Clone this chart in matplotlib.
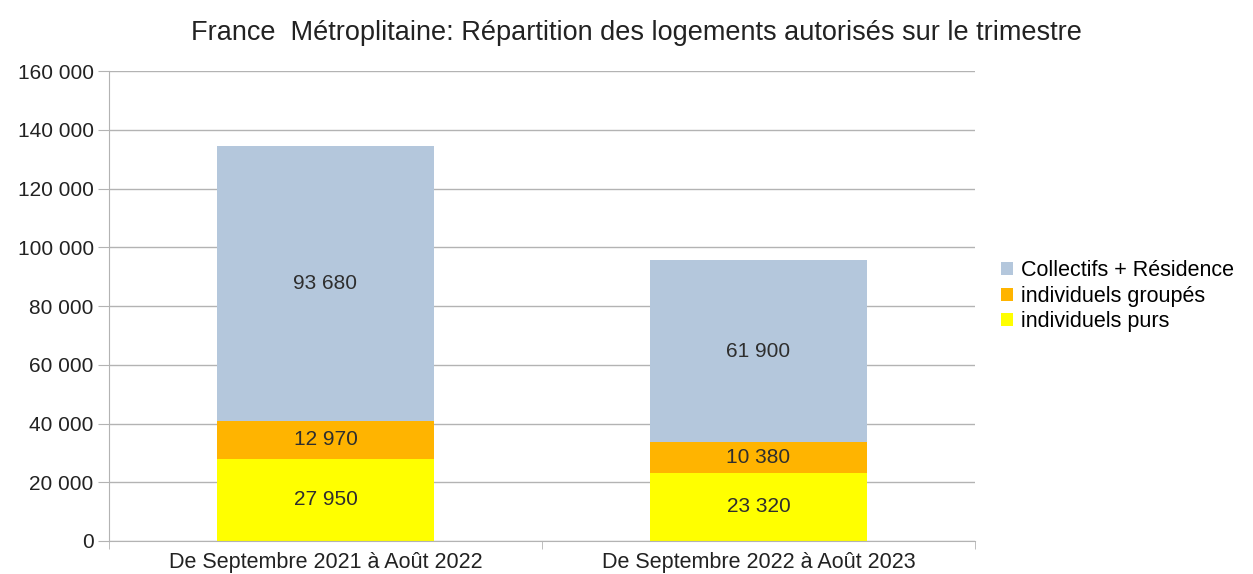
import matplotlib.pyplot as plt
import numpy as np

plt.rcParams["font.family"] = ["Liberation Sans", "DejaVu Sans"]

periods = ["De Septembre 2021 à Août 2022", "De Septembre 2022 à Août 2023"]
individuels_purs = [27950, 23320]
individuels_groupes = [12970, 10380]
collectifs = [93680, 61900]

series = [
    ("individuels purs", individuels_purs, "#ffff00"),
    ("individuels groupés", individuels_groupes, "#ffb400"),
    ("Collectifs + Résidence", collectifs, "#b4c7dc"),
]


def fmt(v):
    return f"{v:,.0f}".replace(",", " ")


fig = plt.figure(figsize=(12.53, 5.74), dpi=100)
ax = fig.add_axes([0.087, 0.0575, 0.691, 0.8185])

x = np.arange(len(periods))
bottom = np.zeros(len(periods))
handles = []
for label, vals, color in series:
    bars = ax.bar(x, vals, width=0.5, bottom=bottom, color=color, label=label, zorder=2)
    handles.append(bars)
    for xi, b, v in zip(x, bottom, vals):
        ax.text(xi, b + v / 2, fmt(v), ha="center", va="center", fontsize=15, color="#2e2e2e", zorder=3)
    bottom += np.array(vals)

ax.set_xlim(-0.5, 1.5)
ax.set_ylim(0, 160000)
ax.set_yticks(np.arange(0, 160001, 20000))
ax.set_yticklabels([fmt(v) for v in np.arange(0, 160001, 20000)], fontsize=15, color="#222222")
ax.set_xticks(x)
ax.set_xticklabels(periods, fontsize=15.5, color="#222222")
ax.set_xticks([-0.5, 0.5, 1.5], minor=True)
ax.tick_params(axis="x", which="major", length=0, pad=8)
ax.tick_params(axis="x", which="minor", length=6, color="#b3b3b3")
ax.tick_params(axis="y", length=8, color="#b3b3b3", pad=3)

ax.yaxis.grid(True, color="#b3b3b3", linewidth=1, zorder=0)
for s in ["top", "right"]:
    ax.spines[s].set_visible(False)
ax.spines["left"].set_color("#b3b3b3")
ax.spines["bottom"].set_color("#b3b3b3")

fig.suptitle("France  Métroplitaine: Répartition des logements autorisés sur le trimestre",
             x=0.508, y=0.965, fontsize=19.5, color="#222222")

leg = fig.legend(handles[::-1], [s[0] for s in series][::-1], loc="center left",
                 bbox_to_anchor=(0.799, 0.484), frameon=False, fontsize=15.5,
                 handlelength=0.55, handleheight=0.55, handletextpad=0.35, labelspacing=0.2,
                 borderpad=0, borderaxespad=0)

fig.savefig("out.png", dpi=100)
